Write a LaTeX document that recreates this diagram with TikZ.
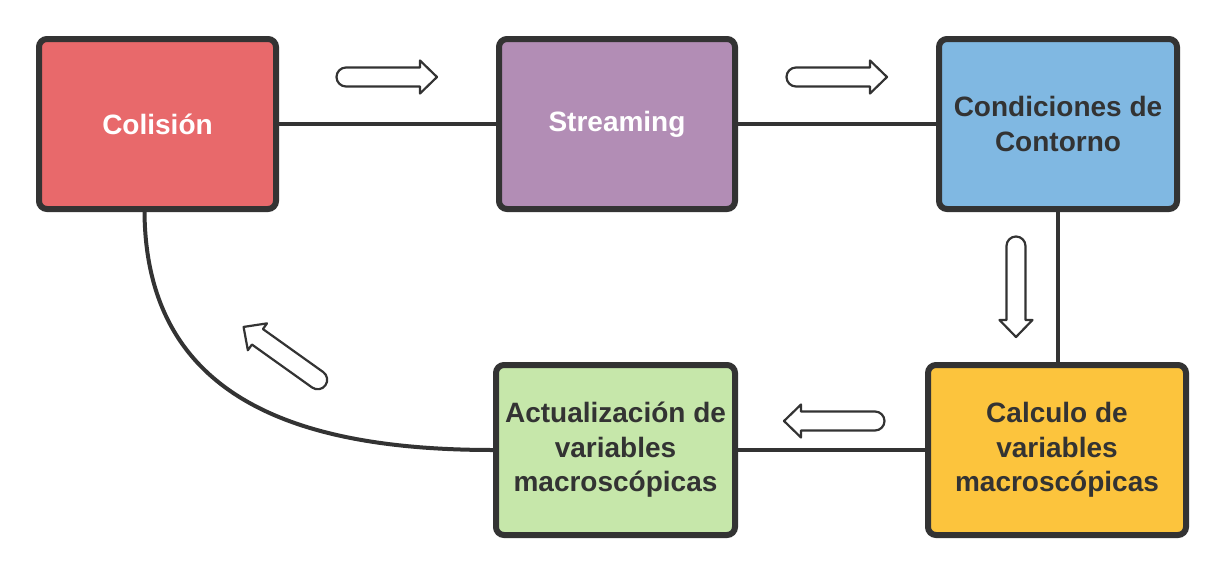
\documentclass[tikz,border=0pt]{standalone}
\usepackage{fontspec}
\setmainfont{Liberation Sans}
\definecolor{edge}{HTML}{333333}
\definecolor{cred}{HTML}{E8696B}
\definecolor{cpurple}{HTML}{B28DB5}
\definecolor{cblue}{HTML}{80B8E2}
\definecolor{cyellow}{HTML}{FCC43D}
\definecolor{cgreen}{HTML}{C6E7AA}
\definecolor{darktext}{HTML}{333333}
\begin{document}
\begin{tikzpicture}[x=1pt,y=-1pt,
  box/.style={draw=edge, line width=6pt, rounded corners=8pt, minimum height=170pt,
    align=center, font=\fontsize{28}{34.5}\selectfont\bfseries, inner sep=4pt},
  conn/.style={draw=edge, line width=4pt},
  hollow/.pic={\draw[edge, line width=2.2pt, line join=round, fill=white]
     (9,-9.5) -- (83,-9.5) -- (83,-16.5) -- (100,0) -- (83,16.5) -- (83,9.5) -- (9,9.5)
     arc[start angle=90, end angle=270, radius=9.5] -- cycle;}]
\useasboundingbox (0,0) rectangle (1227,576);
\node[box, fill=cred, text=white, minimum width=237pt] (col) at (157.5,124) {Colisión};
\node[box, fill=cpurple, text=white, minimum width=236pt] (str) at (617,124) {Streaming};
\node[box, fill=cblue, text=darktext, minimum width=238pt] (cond) at (1058,124) {Condiciones de\\Contorno};
\node[box, fill=cyellow, text=darktext, minimum width=258pt] (calc) at (1057,450) {Calculo de\\variables\\macroscópicas};
\node[box, fill=cgreen, text=darktext, minimum width=239pt] (act) at (615.5,450) {Actualización de\\variables\\macroscópicas};
\begin{scope}[on background layer/.style={}]
\end{scope}
\draw[conn] (col.east) -- (str.west);
\draw[conn] (str.east) -- (cond.west);
\draw[conn] (cond.south) -- (cond.south |- calc.north);
\draw[conn] (calc.west) -- (act.west -| act.east);
\coordinate (cs) at ([xshift=-13pt]col.south);
\draw[conn] (cs) .. controls (146,400) and (300,450) .. (act.west);
\pic at (337,77) {hollow};
\pic at (787,77) {hollow};
\pic[rotate=-90] at (1016,237) {hollow};
\pic[rotate=180] at (884,421) {hollow};
\pic[rotate=144.5] at (325,385) {hollow};
\end{tikzpicture}
\end{document}
